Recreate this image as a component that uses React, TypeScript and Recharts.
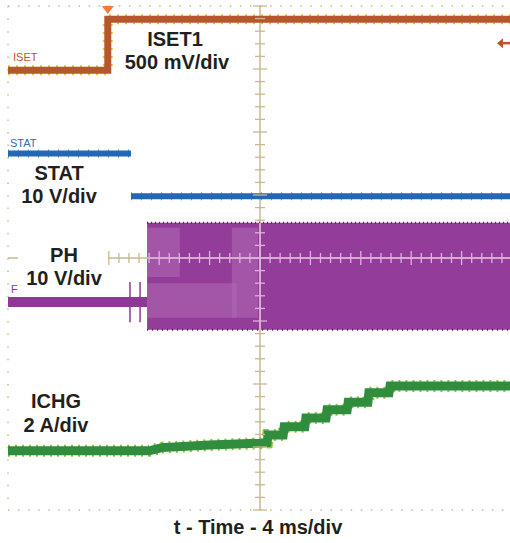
import React from "react";
import {
  ComposedChart,
  Line,
  Area,
  XAxis,
  YAxis,
  CartesianGrid,
  ReferenceDot,
  Scatter,
} from "recharts";

// ---- scope graticule (divisions) ----
const minorXTicks = Array.from({ length: 51 }, (_, i) => +(i * 0.2).toFixed(2));
const minorYTicks = Array.from({ length: 41 }, (_, i) => +(i * 0.2).toFixed(2));
const majorXTicks = [0, 1, 2, 3, 4, 5, 6, 7, 8, 9, 10];
const majorYTicks = [0, 1, 2, 3, 4, 5, 6, 7, 8];
const centerX = 5;
const centerY = 4;

// ---- traces (x in time divisions, y in vertical divisions) ----
const isetTime = [0, 1.98, 1.98, 10];
const isetLevel = [6.98, 6.98, 7.79, 7.79];

const statTime = [0, 2.44, 2.44, 2.44, 10];
const statLevel = [5.66, 5.66, null, 4.98, 4.98];

const phTime = [0, 2.76];
const phLevel = [3.3, 3.3];
const phSpikeTime = [2.42, 2.62];
const phSpikeLow = 2.98;
const phSpikeHigh = 3.62;
const phBurstTime = [2.76, 10];
const phBurstLow = 2.86;
const phBurstHigh = 4.56;
const phLightTime = [
  [2.76, 3.41],
  [2.76, 4.54],
  [4.44, 4.96],
];
const phLightLow = [3.7, 3.05, 3.05];
const phLightHigh = [4.48, 3.6, 4.48];

const ichgTime = [0, 2.8, 3.05, 4.0, 5.0, 5.14, 5.16, 5.46, 5.48, 5.89, 5.91, 6.31, 6.33, 6.73, 6.75, 7.14, 7.16, 7.56, 7.58, 10];
const ichgLevel = [0.94, 0.94, 0.99, 1.03, 1.06, 1.07, 1.19, 1.19, 1.32, 1.32, 1.46, 1.46, 1.59, 1.59, 1.71, 1.71, 1.86, 1.86, 1.97, 1.97];

const triggerTime = 1.98;
const triggerLevel = 7.41;

// ---- built tables ----
const toPts = (t: number[], v: (number | null)[]) => t.map((x, i) => ({ x, y: v[i] }));
const isetData = toPts(isetTime, isetLevel);
const statData = toPts(statTime, statLevel);
const phData = toPts(phTime, phLevel);
const ichgData = toPts(ichgTime, ichgLevel);
const phBurstData = phBurstTime.map((x) => ({ x, r: [phBurstLow, phBurstHigh] }));
const phBurstTop = phBurstTime.map((x) => ({ x, y: phBurstHigh }));
const phBurstBottom = phBurstTime.map((x) => ({ x, y: phBurstLow }));
const phLightData = phLightTime.map((t, i) => t.map((x) => ({ x, r: [phLightLow[i], phLightHigh[i]] })));
const phSpikeData = [
  { x: phSpikeTime[0], y: phSpikeHigh },
  { x: phSpikeTime[0], y: phSpikeLow },
  { x: (phSpikeTime[0] + phSpikeTime[1]) / 2, y: null },
  { x: phSpikeTime[1], y: phSpikeHigh },
  { x: phSpikeTime[1], y: phSpikeLow },
];
const centerVLine = [
  { x: centerX, y: 0 },
  { x: centerX, y: 8 },
];
const centerHLine = [
  { x: 0, y: centerY },
  { x: 10, y: centerY },
];
const centerVPale = [
  { x: centerX, y: phBurstLow },
  { x: centerX, y: phBurstHigh },
];
const centerHPale = [
  { x: phBurstTime[0], y: centerY },
  { x: 10, y: centerY },
];
const centerVTicks = minorYTicks.map((y) => ({ x: centerX, y }));
const centerHTicks = minorXTicks.map((x) => ({ x, y: centerY }));

// ---- colours ----
const TAN = "#c9b98e";
const BORDER = "#cfc3a0";
const PALE = "#dcb2de";
const ORANGE = "#b5562c";
const YELLOW = "#e6c53a";
const BLUE = "#2367b6";
const CYAN = "#3fa6c8";
const PURPLE = "#8f3996";
const PURPLE_BAND = "#933c99";
const PURPLE_LIGHT = "#ad66b2";
const GREEN = "#2f8d3d";
const LIME = "#8cc63f";
const TEXT = "#231f20";

const inBand = (x: number, y: number) =>
  x >= phBurstTime[0] && y >= phBurstLow && y <= phBurstHigh;
const isMajor = (v: number) => Math.abs(v - Math.round(v)) < 1e-6;

const VAxisTick = (p: any) => {
  const { cx, cy, payload } = p;
  if (cx == null || cy == null) return null;
  const half = isMajor(payload.y) ? 7 : 5;
  return (
    <line x1={cx - half} x2={cx + half} y1={cy} y2={cy} stroke={inBand(payload.x, payload.y) ? PALE : TAN} strokeWidth={1.3} />
  );
};
const HAxisTick = (p: any) => {
  const { cx, cy, payload } = p;
  if (cx == null || cy == null) return null;
  if (payload.x < 2) return null;
  const half = isMajor(payload.x) ? 7 : 5;
  return (
    <line x1={cx} x2={cx} y1={cy - half} y2={cy + half} stroke={inBand(payload.x, payload.y) ? PALE : TAN} strokeWidth={1.3} />
  );
};
const TriggerMark = (p: any) => {
  const { cx, cy } = p;
  if (cx == null) return null;
  return <path d={`M${cx - 6},${cy} L${cx + 6},${cy} L${cx},${cy + 8} Z`} fill="#f47b3a" />;
};
const LevelArrow = (p: any) => {
  const { cx, cy } = p;
  if (cx == null) return null;
  return (
    <g>
      <path d={`M${cx - 15},${cy} L${cx - 9},${cy - 5} L${cx - 9},${cy + 5} Z`} fill="#c0552a" />
      <line x1={cx - 10} x2={cx} y1={cy} y2={cy} stroke="#c0552a" strokeWidth={2.5} />
    </g>
  );
};

const AX = { xAxisId: "b", yAxisId: "l" };

const labels = [
  { box: [120, 27, 116, 48], lines: [["ISET1", 175, 46], ["500 mV/div", 177, 69]] },
  { box: [18, 160, 86, 50], lines: [["STAT", 59, 180], ["10 V/div", 59, 203]] },
  { box: [18, 240, 90, 52], lines: [["PH", 64, 262], ["10 V/div", 64, 285]] },
  { box: [18, 388, 82, 50], lines: [["ICHG", 56, 408], ["2 A/div", 56, 432]] },
];

export default function App() {
  const axisCommon = { tick: false as const, interval: 0 as const, mirror: true };
  return (
    <div style={{ position: "absolute", left: 0, top: 0, width: 510, height: 543, overflow: "hidden", background: "#fff" }}>
      <ComposedChart width={520} height={543} margin={{ top: 6, left: 8, right: 8, bottom: 33 }}>
        <CartesianGrid xAxisId="bM" yAxisId="lM" horizontal={false} vertical stroke={TAN} strokeWidth={1.5} strokeDasharray="1.5 11.1" />
        <CartesianGrid xAxisId="bM" yAxisId="lM" horizontal vertical={false} stroke={TAN} strokeWidth={1.5} strokeDasharray="1.5 8.58" />

        <XAxis xAxisId="b" dataKey="x" type="number" domain={[0, 10]} ticks={minorXTicks} orientation="bottom" height={0} tickSize={6} axisLine={{ stroke: BORDER, strokeWidth: 2 }} tickLine={{ stroke: BORDER, strokeWidth: 1.3 }} {...axisCommon} />
        <XAxis xAxisId="t" dataKey="x" type="number" domain={[0, 10]} ticks={minorXTicks} orientation="top" height={0} tickSize={6} axisLine={{ stroke: BORDER, strokeWidth: 2 }} tickLine={{ stroke: BORDER, strokeWidth: 1.3 }} {...axisCommon} />
        <XAxis xAxisId="bM" dataKey="x" type="number" domain={[0, 10]} ticks={majorXTicks} orientation="bottom" height={0} tickSize={10} axisLine={false} tickLine={{ stroke: BORDER, strokeWidth: 1.5 }} {...axisCommon} />
        <XAxis xAxisId="tM" dataKey="x" type="number" domain={[0, 10]} ticks={majorXTicks} orientation="top" height={0} tickSize={10} axisLine={false} tickLine={{ stroke: BORDER, strokeWidth: 1.5 }} {...axisCommon} />
        <YAxis yAxisId="l" dataKey="y" type="number" domain={[0, 8]} ticks={minorYTicks} orientation="left" width={0} tickSize={6} axisLine={{ stroke: BORDER, strokeWidth: 2 }} tickLine={{ stroke: BORDER, strokeWidth: 1.3 }} {...axisCommon} />
        <YAxis yAxisId="r" dataKey="y" type="number" domain={[0, 8]} ticks={minorYTicks} orientation="right" width={0} tickSize={6} axisLine={{ stroke: BORDER, strokeWidth: 2 }} tickLine={{ stroke: BORDER, strokeWidth: 1.3 }} {...axisCommon} />
        <YAxis yAxisId="lM" dataKey="y" type="number" domain={[0, 8]} ticks={majorYTicks} orientation="left" width={0} tickSize={10} axisLine={false} tickLine={{ stroke: BORDER, strokeWidth: 1.5 }} {...axisCommon} />
        <YAxis yAxisId="rM" dataKey="y" type="number" domain={[0, 8]} ticks={majorYTicks} orientation="right" width={0} tickSize={10} axisLine={false} tickLine={{ stroke: BORDER, strokeWidth: 1.5 }} {...axisCommon} />

        {/* centre axes */}
        <Line {...AX} data={centerVLine} dataKey="y" stroke={TAN} strokeWidth={1.5} dot={false} isAnimationActive={false} />
        <Line {...AX} data={centerHLine} dataKey="y" stroke={TAN} strokeWidth={1.5} dot={false} isAnimationActive={false} />

        {/* ISET */}
        <Line {...AX} data={isetData} dataKey="y" stroke={YELLOW} strokeWidth={10} strokeDasharray="2 6" dot={false} isAnimationActive={false} />
        <Line {...AX} data={isetData} dataKey="y" stroke={ORANGE} strokeWidth={7} dot={false} isAnimationActive={false} />

        {/* STAT */}
        <Line {...AX} data={statData} dataKey="y" stroke={CYAN} strokeWidth={8} strokeDasharray="1 9" dot={false} connectNulls={false} isAnimationActive={false} />
        <Line {...AX} data={statData} dataKey="y" stroke={BLUE} strokeWidth={6} dot={false} connectNulls={false} isAnimationActive={false} />

        {/* PH */}
        <Line {...AX} data={phSpikeData} dataKey="y" stroke={PURPLE} strokeWidth={1.5} dot={false} connectNulls={false} isAnimationActive={false} />
        <Line {...AX} data={phData} dataKey="y" stroke={PURPLE} strokeWidth={10} dot={false} isAnimationActive={false} />
        <Area {...AX} data={phBurstData} dataKey="r" type="linear" stroke="none" fill={PURPLE_BAND} fillOpacity={1} isAnimationActive={false} />
        {phLightData.map((d, i) => (
          <Area key={i} {...AX} data={d} dataKey="r" type="linear" stroke="none" fill={PURPLE_LIGHT} fillOpacity={0.6} isAnimationActive={false} />
        ))}
        <Line {...AX} data={phBurstTop} dataKey="y" stroke="#4a1650" strokeWidth={2} strokeDasharray="1 3" dot={false} isAnimationActive={false} />
        <Line {...AX} data={phBurstBottom} dataKey="y" stroke="#4a1650" strokeWidth={2} strokeDasharray="1 4" dot={false} isAnimationActive={false} />
        <Line {...AX} data={centerVPale} dataKey="y" stroke={PALE} strokeWidth={1.5} dot={false} isAnimationActive={false} />
        <Line {...AX} data={centerHPale} dataKey="y" stroke={PALE} strokeWidth={1.5} dot={false} isAnimationActive={false} />

        {/* ICHG */}
        <Line {...AX} data={ichgData} dataKey="y" stroke={LIME} strokeWidth={12} strokeDasharray="2 5" dot={false} isAnimationActive={false} />
        <Line {...AX} data={ichgData} dataKey="y" stroke={GREEN} strokeWidth={9} dot={false} isAnimationActive={false} />

        <Scatter {...AX} data={centerVTicks} dataKey="y" shape={VAxisTick} isAnimationActive={false} />
        <Scatter {...AX} data={centerHTicks} dataKey="y" shape={HAxisTick} isAnimationActive={false} />

        <ReferenceDot {...AX} x={triggerTime} y={8} r={0} shape={TriggerMark} ifOverflow="visible" />
        <ReferenceDot {...AX} x={10} y={triggerLevel} r={0} shape={LevelArrow} ifOverflow="visible" />
      </ComposedChart>

      <svg width={510} height={543} style={{ position: "absolute", left: 0, top: 0, pointerEvents: "none" }}>
        {labels.map((l, i) => (
          <g key={i}>
            <rect x={l.box[0]} y={l.box[1]} width={l.box[2]} height={l.box[3]} fill="#fff" />
            {l.lines.map((ln, j) => (
              <text key={j} x={ln[1] as number} y={ln[2] as number} textAnchor="middle" fontFamily="'Liberation Sans', Arial, sans-serif" fontWeight="bold" fontSize={20} fill={TEXT}>
                {ln[0]}
              </text>
            ))}
          </g>
        ))}
        <text x={258} y={534} textAnchor="middle" fontFamily="'Liberation Sans', Arial, sans-serif" fontWeight="bold" fontSize={20} fill={TEXT}>
          t - Time - 4 ms/div
        </text>
        <text x={13} y={61} fontFamily="'Liberation Sans Narrow', 'Liberation Sans', Arial, sans-serif" fontSize={11} fill="#c0552a">ISET</text>
        <text x={10} y={147} fontFamily="'Liberation Sans Narrow', 'Liberation Sans', Arial, sans-serif" fontSize={11} fill="#2f6db5">STAT</text>
        <text x={11} y={293} fontFamily="'Liberation Sans Narrow', 'Liberation Sans', Arial, sans-serif" fontSize={11} fill={PURPLE}>F</text>
      </svg>
    </div>
  );
}
